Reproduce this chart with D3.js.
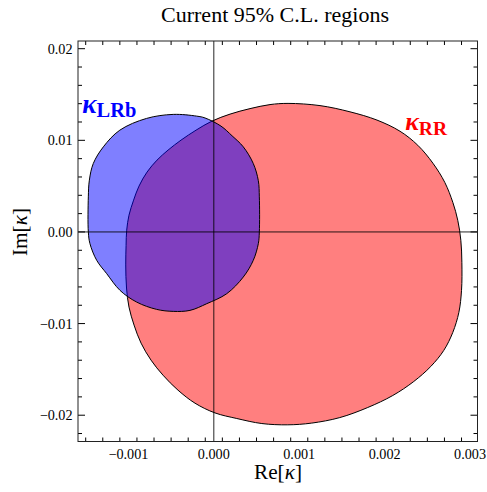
<!DOCTYPE html>
<html><head><meta charset="utf-8">
<script src="https://cdn.jsdelivr.net/npm/d3@7"></script>
<style>body{margin:0;background:#fff}svg{display:block}</style>
</head><body>
<svg id="c" width="487" height="492"></svg>
<script>
// ---- data ----
const title = "Current 95% C.L. regions";
const xTicks = [-0.001, 0.000, 0.001, 0.002, 0.003];
const xTickLabels = ["\u22120.001", "0.000", "0.001", "0.002", "0.003"];
const yTicks = [-0.02, -0.01, 0.00, 0.01, 0.02];
const yTickLabels = ["\u22120.02", "\u22120.01", "0.00", "0.01", "0.02"];
const xDomain = [-0.00159, 0.003087];
const yDomain = [-0.02287, 0.02084];

// boundary of kappa_RR region [Re, Im]
const regionRR = [
  [0.000869, 0.01403], [0.001243, 0.01379], [0.001594, 0.01311], [0.001910, 0.01221],
  [0.002180, 0.01099], [0.002388, 0.00946], [0.002566, 0.00749], [0.002704, 0.00541],
  [0.002798, 0.00323], [0.002856, 0.00127], [0.002892, -0.00091], [0.002904, -0.00331],
  [0.002900, -0.00637], [0.002869, -0.00877], [0.002798, -0.01096], [0.002692, -0.01293],
  [0.002540, -0.01468], [0.002341, -0.01632], [0.002095, -0.01785], [0.001802, -0.01916],
  [0.001475, -0.02026], [0.001147, -0.02086], [0.000866, -0.02105], [0.000562, -0.02091],
  [0.000269, -0.02036], [0.000014, -0.01975], [-0.000220, -0.01869], [-0.000419, -0.01727],
  [-0.000595, -0.01563], [-0.000735, -0.01399], [-0.000852, -0.01213], [-0.000934, -0.01016],
  [-0.000993, -0.00820], [-0.001022, -0.00612], [-0.001031, -0.00360], [-0.001027, -0.00146],
  [-0.001020, 0.00019], [-0.000993, 0.00183], [-0.000939, 0.00347], [-0.000876, 0.00500],
  [-0.000782, 0.00653], [-0.000665, 0.00784], [-0.000536, 0.00893], [-0.000384, 0.01002],
  [-0.000208, 0.01111], [-0.000021, 0.01210], [0.000190, 0.01286], [0.000424, 0.01346],
  [0.000658, 0.01390]
];
// boundary of kappa_LRb region [Re, Im]
const regionLRb = [
  [-0.000475, 0.01283], [-0.000200, 0.01264], [-0.000103, 0.01244], [0.000084, 0.01155],
  [0.000214, 0.01049], [0.000345, 0.00929], [0.000462, 0.00747], [0.000521, 0.00560],
  [0.000533, 0.00383], [0.000533, 0.00000], [0.000521, -0.00128], [0.000462, -0.00310],
  [0.000345, -0.00492], [0.000151, -0.00674], [-0.000083, -0.00783], [-0.000279, -0.00856],
  [-0.000475, -0.00867], [-0.000670, -0.00845], [-0.000904, -0.00765], [-0.001099, -0.00637],
  [-0.001254, -0.00455], [-0.001371, -0.00310], [-0.001450, -0.00128], [-0.001469, 0.00000],
  [-0.001469, 0.00383], [-0.001457, 0.00565], [-0.001411, 0.00747], [-0.001293, 0.00929],
  [-0.001100, 0.01111], [-0.000788, 0.01239]
];
const labelRR = {main: "\u03BA", sub: "RR", at: [0.002240, 0.01111]};
const labelLRb = {main: "\u03BA", sub: "LRb", at: [-0.001540, 0.01300]};

// ---- layout ----
const svg = d3.select("#c");
const L = 78, R = 477.5, T = 41, B = 441.5;
const x = d3.scaleLinear().domain(xDomain).range([L, R]);
const y = d3.scaleLinear().domain(yDomain).range([B, T]);
const serif = "'Liberation Serif','Times New Roman',serif";

// font size that makes a sample string reach a target width (pixels measured on the reference)
function fitSize(build, targetW, base) {
  const t = svg.append("text").attr("font-family", serif).attr("font-size", base);
  build(t);
  const w = t.node().getComputedTextLength();
  t.remove();
  return w > 0 ? base * targetW / w : base;
}

const titleSize = fitSize(t => t.text(title), 228, 20);
svg.append("text").attr("x", 275).attr("y", 21.5).attr("text-anchor", "middle")
  .attr("font-family", serif).attr("font-size", titleSize).text(title);

const line = d3.line().x(d => x(d[0])).y(d => y(d[1])).curve(d3.curveCatmullRomClosed.alpha(0.5));

svg.append("path").attr("d", line(regionRR)).attr("fill", "rgb(255,0,0)").attr("fill-opacity", 0.5)
  .attr("stroke", "#000").attr("stroke-width", 1);
svg.append("path").attr("d", line(regionLRb)).attr("fill", "rgb(0,0,255)").attr("fill-opacity", 0.5)
  .attr("stroke", "#000").attr("stroke-width", 1);

// zero axes
svg.append("line").attr("x1", x(0)).attr("x2", x(0)).attr("y1", T).attr("y2", B)
  .attr("stroke", "#000").attr("stroke-width", 1).attr("stroke-opacity", 0.85);
svg.append("line").attr("x1", L).attr("x2", R).attr("y1", y(0)).attr("y2", y(0))
  .attr("stroke", "#000").attr("stroke-width", 1).attr("stroke-opacity", 0.85);

// frame ticks
const g = svg.append("g").attr("stroke", "#000").attr("stroke-width", 1);
function isMajor(v, step) { return Math.abs(v/step - Math.round(v/step)) < 1e-6; }
d3.range(-15, 31, 2).map(i => i*0.0001).forEach(v => {
  if (v < xDomain[0] || v > xDomain[1]) return;
  const len = isMajor(v, 0.001) ? 7 : 4;
  g.append("line").attr("x1", x(v)).attr("x2", x(v)).attr("y1", B).attr("y2", B - len);
  g.append("line").attr("x1", x(v)).attr("x2", x(v)).attr("y1", T).attr("y2", T + len);
});
d3.range(-22, 21, 2).map(i => i*0.001).forEach(v => {
  if (v < yDomain[0] || v > yDomain[1]) return;
  const len = isMajor(v, 0.01) ? 7 : 4;
  g.append("line").attr("x1", L).attr("x2", L + len).attr("y1", y(v)).attr("y2", y(v));
  g.append("line").attr("x1", R).attr("x2", R - len).attr("y1", y(v)).attr("y2", y(v));
});
svg.append("rect").attr("x", L).attr("y", T).attr("width", R - L).attr("height", B - T)
  .attr("fill", "none").attr("stroke", "#222").attr("stroke-width", 1);

// tick labels
const tickSize = fitSize(t => t.text(xTickLabels[0]), 40, 14);
xTicks.forEach((v, i) => svg.append("text").attr("x", x(v)).attr("y", 458.5).attr("text-anchor", "middle")
  .attr("font-family", serif).attr("font-size", tickSize).text(xTickLabels[i]));
yTicks.forEach((v, i) => svg.append("text").attr("x", 72.5).attr("y", y(v) + 5).attr("text-anchor", "end")
  .attr("font-family", serif).attr("font-size", tickSize).text(yTickLabels[i]));

// axis titles
function axisTitle(t, a) {
  t.append("tspan").text(a + "[");
  t.append("tspan").attr("font-style", "italic").text("\u03BA");
  t.append("tspan").text("]");
}
const axSize = fitSize(t => axisTitle(t, "Re"), 48, 20);
const xt = svg.append("text").attr("x", 278).attr("y", 478.5).attr("text-anchor", "middle")
  .attr("font-family", serif).attr("font-size", axSize);
axisTitle(xt, "Re");
const yt = svg.append("text").attr("transform", "translate(27,232) rotate(-90)").attr("text-anchor", "middle")
  .attr("font-family", serif).attr("font-size", axSize);
axisTitle(yt, "Im");

// region labels
function regionLabel(lab, color, targetW) {
  const build = (t, k) => {
    t.attr("font-weight", "bold");
    t.append("tspan").attr("font-style", "italic").attr("font-size", 25 * k).text(lab.main);
    t.append("tspan").attr("font-size", 19 * k).attr("dy", 4.5).text(lab.sub);
  };
  const k = fitSize(t => build(t, 1), targetW, 1);
  const t = svg.append("text").attr("x", x(lab.at[0])).attr("y", y(lab.at[1]))
    .attr("font-family", serif).attr("fill", color);
  build(t, k);
}
regionLabel(labelRR, "#ff0000", 42);
regionLabel(labelLRb, "#0000ff", 54);
</script>
</body></html>
